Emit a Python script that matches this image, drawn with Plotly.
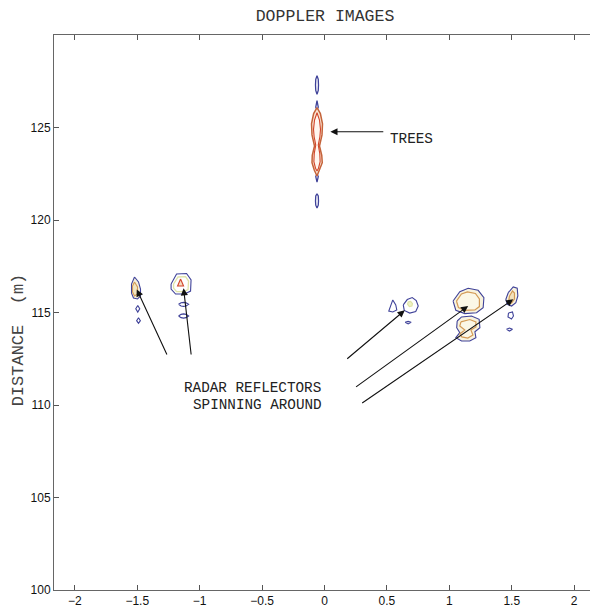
import plotly.graph_objects as go

# ---------------- data (data units) ----------------
x_ticks = [-2, -1.5, -1, -0.5, 0, 0.5, 1, 1.5, 2]
y_ticks = [100, 105, 110, 115, 120, 125]

# Trees (near Doppler 0)
trees_outer_x = [-0.06, -0.033, -0.016, -0.02, -0.04, -0.022, -0.018, -0.038, -0.06, -0.082, -0.1, -0.098, -0.08, -0.1, -0.104, -0.087, -0.06]
trees_outer_y = [126.07, 125.75, 125.2, 124.6, 124.0, 123.5, 123.1, 122.7, 122.38, 122.7, 123.1, 123.5, 124.0, 124.6, 125.2, 125.75, 126.07]
trees_inner_x = [-0.06, -0.04, -0.032, -0.037, -0.05, -0.038, -0.035, -0.048, -0.06, -0.072, -0.085, -0.082, -0.07, -0.083, -0.088, -0.08, -0.06]
trees_inner_y = [125.8, 125.4, 124.9, 124.5, 124.05, 123.6, 123.15, 122.8, 122.65, 122.8, 123.15, 123.6, 124.05, 124.5, 124.9, 125.4, 125.8]
trees_tip_top_x = [-0.06, -0.05, -0.06, -0.07, -0.06]
trees_tip_top_y = [126.45, 126.1, 125.95, 126.1, 126.45]
trees_tip_bot_x = [-0.06, -0.05, -0.06, -0.07, -0.06]
trees_tip_bot_y = [122.05, 122.35, 122.5, 122.35, 122.05]
trees_dot_top_x = [-0.06, -0.05, -0.048, -0.05, -0.06, -0.07, -0.072, -0.07, -0.06]
trees_dot_top_y = [127.8, 127.6, 127.3, 127.0, 126.8, 127.0, 127.3, 127.6, 127.8]
trees_dot_bot_x = [-0.06, -0.05, -0.048, -0.05, -0.06, -0.07, -0.072, -0.07, -0.06]
trees_dot_bot_y = [121.42, 121.3, 121.03, 120.8, 120.65, 120.8, 121.03, 121.3, 121.42]

# Reflector near -1.5
l1_outer_x = [-1.522, -1.49, -1.474, -1.474, -1.498, -1.530, -1.546, -1.546, -1.522]
l1_outer_y = [116.92, 116.65, 116.27, 115.89, 115.73, 115.78, 116.05, 116.54, 116.92]
l1_inner_x = [-1.522, -1.498, -1.498, -1.522, -1.538, -1.538, -1.522]
l1_inner_y = [116.65, 116.38, 116.0, 115.89, 116.11, 116.43, 116.65]
l1_dot1_x = [-1.496, -1.48, -1.496, -1.512, -1.496]
l1_dot1_y = [115.38, 115.2, 115.02, 115.2, 115.38]
l1_dot2_x = [-1.49, -1.475, -1.49, -1.505, -1.49]
l1_dot2_y = [114.72, 114.56, 114.42, 114.56, 114.72]

# Reflector near -1.1
l2_outer_x = [-1.229, -1.185, -1.105, -1.069, -1.073, -1.121, -1.193, -1.229, -1.229]
l2_outer_y = [116.54, 117.08, 117.11, 116.76, 116.16, 116.0, 116.0, 116.27, 116.54]
l2_mid_x = [-1.209, -1.173, -1.113, -1.089, -1.093, -1.129, -1.185, -1.209, -1.209]
l2_mid_y = [116.54, 116.92, 116.94, 116.7, 116.24, 116.13, 116.13, 116.32, 116.54]
l2_core_x = [-1.153, -1.129, -1.177, -1.153]
l2_core_y = [116.81, 116.43, 116.43, 116.81]
l2_dot1_x = [-1.169, -1.149, -1.129, -1.109, -1.089, -1.109, -1.129, -1.149, -1.169]
l2_dot1_y = [115.44, 115.53, 115.55, 115.53, 115.44, 115.35, 115.33, 115.35, 115.44]
l2_dot2_x = [-1.169, -1.149, -1.129, -1.109, -1.089, -1.109, -1.129, -1.149, -1.169]
l2_dot2_y = [114.81, 114.9, 114.92, 114.9, 114.81, 114.72, 114.7, 114.72, 114.81]

# Reflectors near 0.55 / 0.7
r0_tri_x = [0.547, 0.523, 0.515, 0.547, 0.579, 0.571, 0.547]
r0_tri_y = [115.68, 115.30, 115.08, 115.03, 115.14, 115.41, 115.68]
r1_outer_x = [0.631, 0.663, 0.703, 0.735, 0.751, 0.731, 0.683, 0.639, 0.631]
r1_outer_y = [115.41, 115.70, 115.81, 115.65, 115.35, 115.05, 114.97, 115.11, 115.41]
r1_inner_x = [0.672, 0.69, 0.705, 0.7, 0.68, 0.665, 0.672]
r1_inner_y = [115.58, 115.6, 115.48, 115.35, 115.32, 115.45, 115.58]
r1_dot_x = [0.646, 0.67, 0.694, 0.67, 0.646]
r1_dot_y = [114.47, 114.52, 114.47, 114.38, 114.47]

# Reflector near 1.15 (two lobes)
r2_outer_x = [1.030, 1.084, 1.151, 1.231, 1.277, 1.271, 1.218, 1.124, 1.052, 1.030]
r2_outer_y = [115.62, 116.12, 116.31, 116.20, 115.80, 115.26, 114.99, 114.94, 115.12, 115.62]
r2_inner_x = [1.057, 1.097, 1.145, 1.209, 1.241, 1.241, 1.205, 1.124, 1.073, 1.057]
r2_inner_y = [115.62, 116.0, 116.11, 116.03, 115.73, 115.32, 115.14, 115.11, 115.27, 115.62]
r3_outer_x = [1.063, 1.098, 1.178, 1.239, 1.245, 1.205, 1.213, 1.164, 1.098, 1.052, 1.084, 1.059, 1.063]
r3_outer_y = [114.54, 114.76, 114.81, 114.63, 114.18, 113.96, 113.64, 113.46, 113.46, 113.64, 113.91, 114.18, 114.54]
r3_inner_x = [1.093, 1.164, 1.213, 1.213, 1.173, 1.189, 1.148, 1.100, 1.084, 1.124, 1.084, 1.093]
r3_inner_y = [114.49, 114.62, 114.49, 114.22, 114.05, 113.78, 113.62, 113.68, 113.84, 114.05, 114.27, 114.49]

# Reflector near 1.5
r4_outer_x = [1.472, 1.512, 1.544, 1.549, 1.533, 1.499, 1.464, 1.453, 1.472]
r4_outer_y = [116.07, 116.38, 116.31, 115.89, 115.53, 115.35, 115.44, 115.71, 116.07]
r4_inner_x = [1.482, 1.506, 1.522, 1.522, 1.498, 1.474, 1.482]
r4_inner_y = [115.89, 116.16, 116.05, 115.73, 115.51, 115.57, 115.89]
r4_dot1_x = [1.474, 1.506, 1.514, 1.498, 1.470, 1.474]
r4_dot1_y = [114.97, 115.03, 114.81, 114.65, 114.76, 114.97]
r4_dot2_x = [1.458, 1.482, 1.506, 1.482, 1.458]
r4_dot2_y = [114.09, 114.16, 114.09, 114.0, 114.09]

# Arrows: (tail x, tail y, tip x, tip y)
arrow_tail_x = [0.483, -1.257, -1.067, 0.170, 0.241, 0.290]
arrow_tail_y = [124.77, 112.65, 112.65, 112.43, 110.92, 110.05]
arrow_tip_x = [0.047, -1.504, -1.129, 0.643, 1.151, 1.512]
arrow_tip_y = [124.77, 116.25, 116.31, 115.12, 115.35, 115.71]

# Labels
label_text = ["TREES", "RADAR REFLECTORS", "SPINNING AROUND"]
label_x = [0.695, -0.574, -0.540]
label_y = [124.39, 110.92, 110.0]

# ---------------- styles ----------------
NAVY = "#3f4299"
TAN = "#d39a55"
PALE = "#dfe3a6"
RED = "#d2452b"
BROWN = "#c4633a"
MONO = "Liberation Mono, Courier New, monospace"

fig = go.Figure()


def ring(xs, ys, color, width=1.2, fill=None):
    fig.add_trace(go.Scatter(
        x=xs, y=ys, mode="lines",
        line=dict(color=color, width=width),
        fill="toself" if fill else None,
        fillcolor=fill,
        hoverinfo="skip", showlegend=False))


# trees
ring(trees_dot_top_x, trees_dot_top_y, NAVY, 1.3)
ring(trees_dot_bot_x, trees_dot_bot_y, NAVY, 1.3)
ring(trees_tip_top_x, trees_tip_top_y, NAVY, 1.3)
ring(trees_tip_bot_x, trees_tip_bot_y, NAVY, 1.3)
ring(trees_outer_x, trees_outer_y, BROWN, 1.5, "#fbe9d6")
ring(trees_inner_x, trees_inner_y, RED, 1.1, "#fff6ee")

# left reflectors
ring(l1_outer_x, l1_outer_y, NAVY, 1.1, "#f6f1dc")
ring(l1_inner_x, l1_inner_y, TAN, 1.1, "#f2e6c2")
ring(l1_dot1_x, l1_dot1_y, NAVY, 1.1)
ring(l1_dot2_x, l1_dot2_y, NAVY, 1.1)
ring(l2_outer_x, l2_outer_y, NAVY, 1.1)
ring(l2_mid_x, l2_mid_y, PALE, 1.3)
ring(l2_core_x, l2_core_y, RED, 1.1, "#f3dcc0")
ring(l2_dot1_x, l2_dot1_y, NAVY, 1.2)
ring(l2_dot2_x, l2_dot2_y, NAVY, 1.2)

# right reflectors
ring(r0_tri_x, r0_tri_y, NAVY, 1.1)
ring(r1_outer_x, r1_outer_y, NAVY, 1.1)
ring(r1_inner_x, r1_inner_y, PALE, 1.2, "#eef3c4")
ring(r1_dot_x, r1_dot_y, NAVY, 1.1)
ring(r2_outer_x, r2_outer_y, NAVY, 1.1, "#f8f3de")
ring(r2_inner_x, r2_inner_y, TAN, 1.2, "#fbf7e6")
ring(r3_outer_x, r3_outer_y, NAVY, 1.1, "#f8f3de")
ring(r3_inner_x, r3_inner_y, TAN, 1.2, "#fbf7e6")
ring(r4_outer_x, r4_outer_y, NAVY, 1.1, "#f8f3de")
ring(r4_inner_x, r4_inner_y, TAN, 1.2, "#f2e2bd")
ring(r4_dot1_x, r4_dot1_y, NAVY, 1.1)
ring(r4_dot2_x, r4_dot2_y, NAVY, 1.1)

annotations = []
for tx, ty, hx, hy in zip(arrow_tail_x, arrow_tail_y, arrow_tip_x, arrow_tip_y):
    annotations.append(dict(
        x=hx, y=hy, ax=tx, ay=ty, xref="x", yref="y", axref="x", ayref="y",
        text="", showarrow=True, arrowhead=2, arrowsize=1.3, arrowwidth=1.1,
        arrowcolor="#111111", standoff=0))

for t, lx, ly in zip(label_text, label_x, label_y):
    annotations.append(dict(
        x=lx, y=ly, xref="x", yref="y", text=t, showarrow=False,
        xanchor="center", yanchor="middle",
        font=dict(family=MONO, size=14.3, color="#222222")))

annotations.append(dict(
    x=-0.067, y=0.45, xref="paper", yref="paper", text="DISTANCE  (m)",
    textangle=-90, showarrow=False, xanchor="center", yanchor="middle",
    font=dict(family=MONO, size=17, color="#444444")))

fig.update_layout(
    width=590, height=611,
    margin=dict(l=54, r=0, t=35, b=21),
    paper_bgcolor="white", plot_bgcolor="white",
    showlegend=False,
    title=dict(text="DOPPLER IMAGES", x=0.5056, xref="paper", y=1 - 15 / 611,
               yref="container", xanchor="center", yanchor="middle",
               font=dict(family=MONO, size=16.5, color="#333333")),
    annotations=annotations,
    xaxis=dict(range=[-2.167, 2.127], tickvals=x_ticks,
               ticktext=[("\u2212" + str(abs(v)) if v < 0 else str(v)) for v in x_ticks],
               ticks="inside", ticklen=5, tickcolor="#555555",
               showline=True, linecolor="#666666", linewidth=1, mirror="ticks",
               showgrid=False, zeroline=False,
               tickfont=dict(family="Liberation Sans, Arial, sans-serif", size=12, color="#111111")),
    yaxis=dict(range=[100, 130], tickvals=y_ticks,
               ticks="inside", ticklen=5, tickcolor="#555555",
               showline=True, linecolor="#666666", linewidth=1, mirror=False,
               showgrid=False, zeroline=False,
               tickfont=dict(family="Liberation Sans, Arial, sans-serif", size=12, color="#111111")),
)

fig.write_html("out.html")
